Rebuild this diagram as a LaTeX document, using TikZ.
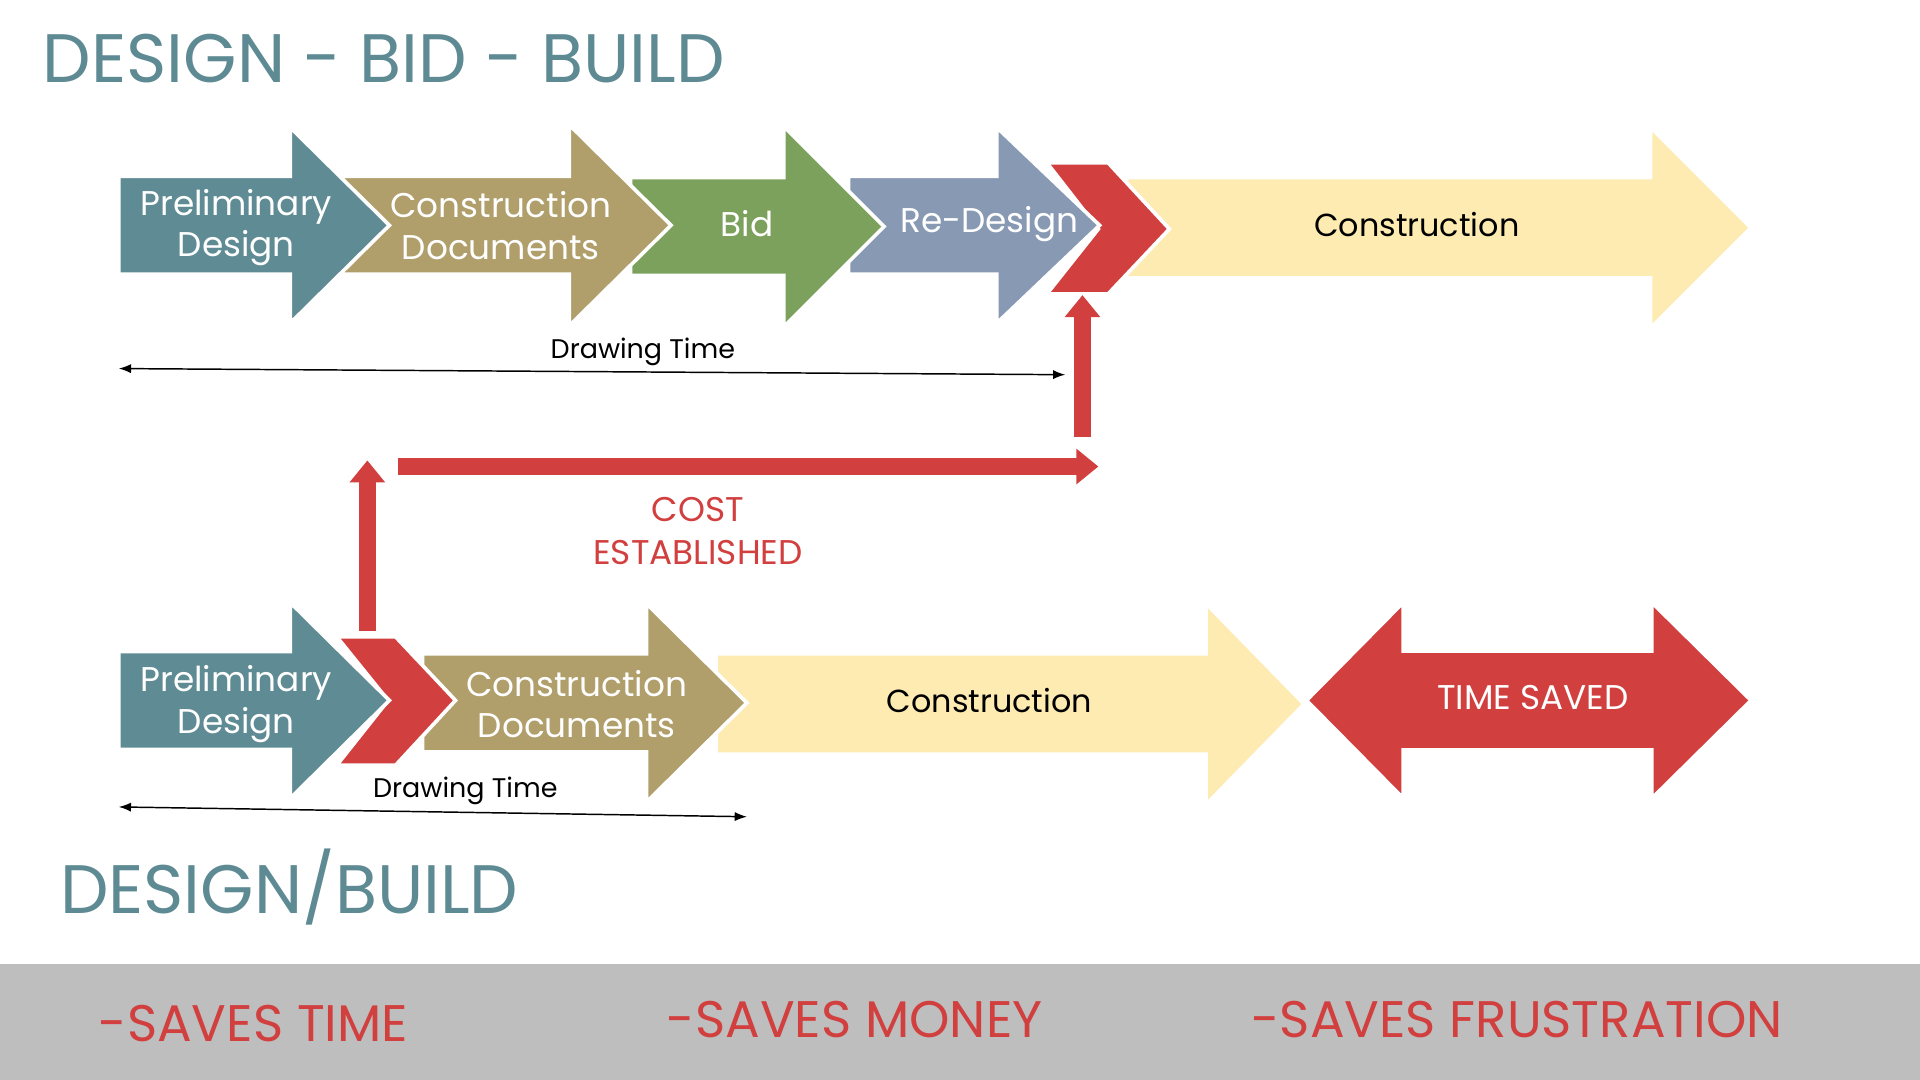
\documentclass[tikz,border=0pt]{standalone}
\usepackage{fontspec}
\setmainfont{Poppins}
\definecolor{cteal}{HTML}{5F8C94}
\definecolor{ctan}{HTML}{B09E6B}
\definecolor{cgreen}{HTML}{7CA15C}
\definecolor{cblue}{HTML}{8799B3}
\definecolor{cred}{HTML}{D13F3E}
\definecolor{ccream}{HTML}{FDEBB1}
\definecolor{cband}{HTML}{BEBEBE}
\definecolor{ctitle}{HTML}{5E8A93}
\tikzset{
 arr/.style={fill=#1, draw=white, line width=1.5pt, line join=miter},
 lbl/.style={text=white, font=\fontsize{14}{17}\selectfont, align=center},
 lbk/.style={text=black, font=\fontsize{13}{16}\selectfont, align=center},
 ttl/.style={text=ctitle, font=\fontsize{28}{32}\selectfont, anchor=west},
 band/.style={text=cred, font=\fontsize{21}{24}\selectfont},
 redline/.style={draw=cred, line width=7pt, -{Triangle[length=9pt,width=14pt]}},
 dim/.style={draw=black, line width=0.6pt, {Latex[length=5pt]}-{Latex[length=5pt]}},
}
\usetikzlibrary{arrows.meta}
% \arrowshape{x0}{xh}{xt}{yc}{bodyhalf}{headhalf}
\newcommand{\arrowshape}[6]{(#1,#4-#5) -- (#2,#4-#5) -- (#2,#4-#6) -- (#3,#4) -- (#2,#4+#6) -- (#2,#4+#5) -- (#1,#4+#5) -- cycle}
\begin{document}
\begin{tikzpicture}[x=0.5pt,y=-0.5pt]
\useasboundingbox (0,0) rectangle (1568,882);
\fill[white] (0,0) rectangle (1568,882);
% ===== top row (drawn right to left)
\draw[arr=ccream] \arrowshape{920}{1348}{1430}{186}{41}{82};
\node[lbk] (tcon) at (1157,183) {Construction};
\draw[arr=cred] (855,133) -- (905,133) -- (955,187) -- (905,240) -- (855,240) -- (897,187) -- cycle;
\draw[arr=cblue] \arrowshape{693}{814}{898}{184}{40}{80};
\node[lbl] (tre) at (808,183) {Re-Design};
\draw[arr=cgreen] \arrowshape{515}{640}{722}{185}{40}{82};
\node[lbl] (tbid) at (610,183) {Bid};
\draw[arr=ctan] \arrowshape{280}{465}{548}{184}{40}{82};
\node[lbl] (tcd) at (409,184) {Construction\\Documents};
\draw[arr=cteal] \arrowshape{97}{237}{318}{184}{40}{80};
\node[lbl] (tpd) at (193,186) {Preliminary\\Design};
% drawing time top
\coordinate (d1a) at (97,301); \coordinate (d1b) at (870,306);
\draw[dim] (d1a) -- (d1b);
\node[lbk, font=\fontsize{11}{13}\selectfont] (dt1) at (525,287) {Drawing Time};
% ===== bottom row
\draw[arr=cred] \arrowshape{1146}{1349}{1430}{572}{40}{80};
\draw[fill=cred, draw=white, line width=1.5pt] (1146,532) -- (1146,492) -- (1067,572) -- (1146,652) -- (1146,612) -- cycle;
\fill[cred] (1140,533.5) rectangle (1352,610.5);
\node[lbl] (ts) at (1252,570) {TIME SAVED};
\draw[arr=ccream] \arrowshape{585}{985}{1065}{575}{41}{82};
\node[lbk] (bcon) at (808,572) {Construction};
\draw[arr=ctan] \arrowshape{345}{528}{610}{574}{40}{81};
\node[lbl] (bcd) at (471,575) {Construction\\Documents};
\draw[arr=cred] (275,520) -- (323,520) -- (372,572) -- (323,625) -- (275,625) -- (317,572) -- cycle;
\draw[arr=cteal] \arrowshape{97}{237}{318}{572}{40}{80};
\node[lbl] (bpd) at (193,575) {Preliminary\\Design};
\coordinate (d2a) at (97,659); \coordinate (d2b) at (610,667);
\draw[dim] (d2a) -- (d2b);
\node[lbk, font=\fontsize{11}{13}\selectfont] (dt2) at (380,646) {Drawing Time};
% ===== red connectors
\coordinate (r1a) at (300,515); \coordinate (r1b) at (300,376);
\coordinate (r2a) at (325,381); \coordinate (r2b) at (897,381);
\coordinate (r3a) at (884,357); \coordinate (r3b) at (884,241);
\draw[redline] (r1a) -- (r1b);
\draw[redline] (r2a) -- (r2b);
\draw[redline] (r3a) -- (r3b);
\node[text=cred, font=\fontsize{14}{17.5}\selectfont, align=center] (cost) at (570,434) {COST\\ESTABLISHED};
% ===== titles
\node[ttl] (t1) at (28,48) {DESIGN - BID - BUILD};
\node[ttl] (t2) at (42,724) {DESIGN/BUILD};
% ===== band
\fill[cband] (0,787) rectangle (1568,882);
\node[band] (s1) at (207,836) {-SAVES TIME};
\node[band] (s2) at (698,833) {-SAVES MONEY};
\node[band] (s3) at (1239,833) {-SAVES FRUSTRATION};
\end{tikzpicture}
\end{document}
